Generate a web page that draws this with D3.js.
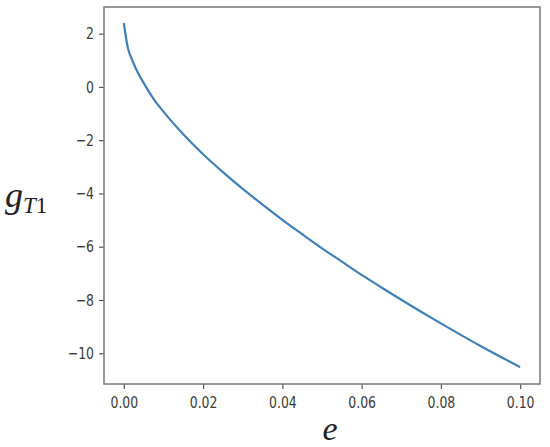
<!DOCTYPE html>
<html><head><meta charset="utf-8">
<script src="https://cdn.jsdelivr.net/npm/d3@7"></script>
<style>body{margin:0;background:#fff;}svg{display:block;}</style>
</head><body>
<svg id="c" width="550" height="447"></svg>
<script>
const eValues = [0, 0.001, 0.002, 0.003, 0.005, 0.0075, 0.01, 0.015, 0.02, 0.025, 0.03, 0.035, 0.04, 0.045, 0.05, 0.055, 0.06, 0.065, 0.07, 0.075, 0.08, 0.085, 0.09, 0.095, 0.1];
const gValues = [2.40, 1.48, 1.05, 0.70, 0.15, -0.45, -0.93, -1.78, -2.53, -3.20, -3.83, -4.42, -4.99, -5.53, -6.06, -6.56, -7.06, -7.53, -7.99, -8.44, -8.88, -9.31, -9.73, -10.13, -10.52];
const xTicks = [0, 0.02, 0.04, 0.06, 0.08, 0.10];
const yTicks = [2, 0, -2, -4, -6, -8, -10];

const svg = d3.select("#c");
const L = 104, R = 540, T = 7, B = 384;
const x = d3.scaleLinear().domain([-0.005, 0.105]).range([L, R]);
const y = d3.scaleLinear().domain([-11.155, 3.0]).range([B, T]);

const tickFont = "DejaVu Sans Condensed, DejaVu Sans, sans-serif";

const xa = svg.append("g").attr("transform", `translate(0,${B})`)
  .call(d3.axisBottom(x).tickValues(xTicks).tickFormat(d3.format(".2f")).tickSize(5).tickPadding(7));
const ya = svg.append("g").attr("transform", `translate(${L},0)`)
  .call(d3.axisLeft(y).tickValues(yTicks).tickFormat(d => d < 0 ? "\u2212" + Math.abs(d) : d).tickSize(5).tickPadding(5));
[xa, ya].forEach(a => {
  a.select(".domain").remove();
  a.selectAll("line").attr("stroke", "#555").attr("stroke-width", 1.2);
  a.selectAll("text").attr("fill", "#3a3a3a").style("font-family", tickFont).style("font-size", "16.5px");
});
xa.selectAll("text").attr("transform", "scale(0.84,1)");
ya.selectAll("text").attr("x", -10 / 0.84).attr("transform", "scale(0.84,1)");

svg.append("rect").attr("x", L).attr("y", T).attr("width", R - L).attr("height", B - T)
  .attr("fill", "none").attr("stroke", "#777").attr("stroke-width", 1.5);

const line = d3.line().x((d, i) => x(eValues[i])).y(d => y(d)).curve(d3.curveMonotoneX);
svg.append("path").datum(gValues).attr("d", line)
  .attr("fill", "none").attr("stroke", "#3f80ba").attr("stroke-width", 2.2);

const yl = svg.append("text").attr("x", 5).attr("y", 207)
  .style("font-family", "Liberation Serif, Times New Roman, serif").style("font-style", "italic").style("font-size", "36px").attr("fill", "#222");
yl.append("tspan").text("g");
yl.append("tspan").attr("dy", 6).style("font-size", "23px").text("T");
yl.append("tspan").style("font-size", "23px").style("font-style", "normal").text("1");

svg.append("text").attr("x", 330).attr("y", 440).attr("text-anchor", "middle")
  .style("font-family", "Liberation Serif, Times New Roman, serif").style("font-style", "italic").style("font-size", "34px").attr("fill", "#222").text("e");
</script>
</body></html>
